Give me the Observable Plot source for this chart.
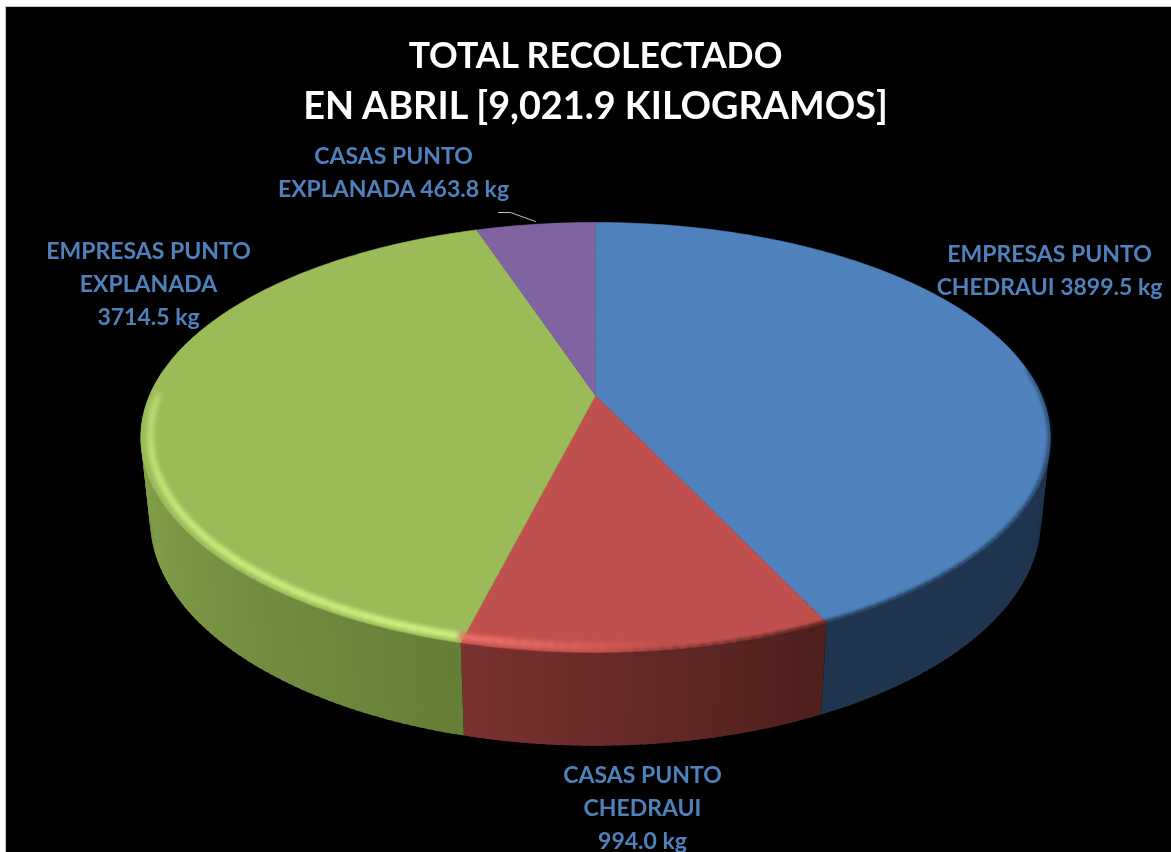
<!DOCTYPE html>
<html><head><meta charset="utf-8">
<script src="https://cdn.jsdelivr.net/npm/d3@7"></script>
<script src="https://cdn.jsdelivr.net/npm/@observablehq/plot@0.6"></script>
<style>
html,body{margin:0;padding:0;background:#fff;overflow:hidden}
.soft{filter:blur(2.2px)}
.edge{filter:blur(1.6px)}
.lab{filter:blur(0.35px)}
</style></head><body><div id="chart"></div>
<script>
const categories = ["EMPRESAS PUNTO CHEDRAUI","CASAS PUNTO CHEDRAUI","EMPRESAS PUNTO EXPLANADA","CASAS PUNTO EXPLANADA"];
const kilograms = [3899.5, 994.0, 3714.5, 463.8];
const topColors = ["#4f81bd","#c0504d","#9bbb59","#8064a2"];
const sideLeft  = ["#203550","#7b3230","#8fae52","#4b3a60"];
const sideRight = ["#203550","#4f201e","#667f38","#4b3a60"];
const rimColors = ["#4f81bd","#ee7069","#cdf280","#8064a2"];
const titleLines = ["TOTAL RECOLECTADO","EN ABRIL [9,021.9 KILOGRAMOS]"];
const labelLines = ["EMPRESAS PUNTO\nCHEDRAUI 3899.5 kg","CASAS PUNTO\nCHEDRAUI\n994.0 kg","EMPRESAS PUNTO\nEXPLANADA\n3714.5 kg","CASAS PUNTO\nEXPLANADA 463.8 kg"];

const W=1171,H=852, CX=595, CY=395, A=446, B=206.8, K=0.195;
const DROP=0.397, SHRINK=0.02;
const total=d3.sum(kilograms);
let acc=0;
const slices=kilograms.map((v,i)=>{const a0=acc/total*2*Math.PI;acc+=v;return {i,a0,a1:acc/total*2*Math.PI};});
function proj(t,z=0,r=1){const u=r*Math.sin(t),v=-r*Math.cos(t);const w=1-K*v+SHRINK*z;return {x:u/w,y:(v+DROP*z)/w};}
const steps=a=>Math.max(4,Math.ceil(a*60));
const faceData=[],sideData=[],rimData=[],edgeData=[];
for(const s of slices){
  const n=steps(s.a1-s.a0), da=(s.a1-s.a0)/n;
  faceData.push({id:s.i,x:0,y:0,c:topColors[s.i]});
  for(let j=0;j<=n;j++){faceData.push({id:s.i,...proj(s.a0+da*j),c:topColors[s.i]});}
  const col=d3.interpolateRgb(sideLeft[s.i],sideRight[s.i]);
  const visibleEnd=Math.min(s.a1,Math.PI*1.54);
  // walls are painted from the last quad to the first, each overlapping its neighbour
  for(let j=n-1;j>=0;j--){
    const t0=s.a0+da*j,t1=Math.min(s.a1,t0+da*1.6);
    if(Math.cos(t0+da/2)>0.12) continue;
    const f=col(1-Math.min(1,(t0-s.a0)/Math.max(1e-6,visibleEnd-s.a0))), id=s.i+"-"+j;
    [proj(t0),proj(t1),proj(t1,1),proj(t0,1)].forEach(p=>sideData.push({id,...p,c:f}));
  }
}
// highlight band along the front rim, strongest toward the green/red seam
function band(store,lo,hi,r,color,op,key){
  const m=Math.ceil((hi-lo)*40);
  for(let j=0;j<m;j++){
    const t0=lo+(hi-lo)*j/m,t1=lo+(hi-lo)*(j+1.2)/m,o=op((j+.5)/m),id=key+j;
    store.push({id,...proj(t0,0,r),c:color,o},{id,...proj(t1,0,r),c:color,o});
  }
}
const [blue,red,green]=slices;
band(rimData,green.a0,Math.PI*1.5,0.98,rimColors[2],f=>Math.max(0.3,Math.pow(1-f,0.6)),"g");
band(rimData,red.a0+(red.a1-red.a0)*0.45,red.a1,0.98,rimColors[1],f=>Math.pow(f,1.3),"r");
band(edgeData,Math.PI*0.46,blue.a1,0.998,"#203550",f=>0.35+f*0.65,"b");
band(edgeData,red.a0,red.a0+(red.a1-red.a0)*0.6,0.998,"#4f201e",f=>1-f*0.95,"rr");
const ux=px=>(px-CX)/A, uy=py=>(py-CY)/B;
const leader=[[498,212],[510,212],[535,221]].map(([a,b])=>({x:ux(a),y:uy(b)}));
const text=(t,x,y,size,fill,lh)=>Plot.text([t],{x:()=>ux(x),y:()=>uy(y),text:d=>d,fontFamily:"Lato",fontWeight:700,fontSize:size,fill,lineHeight:lh,textAnchor:"middle",lineAnchor:"top",className:"lab"});
const chart=Plot.plot({
  width:W,height:H,margin:0,
  style:{background:"#fff"},
  x:{domain:[-1,1],range:[CX-A,CX+A],axis:null},
  y:{domain:[-1,1],range:[CY-B,CY+B],axis:null},
  color:{type:"identity"},
  opacity:{type:"identity"},
  marks:[
    Plot.frame({fill:"#000",stroke:"#c8c8c8",insetLeft:5,insetTop:6,insetRight:-2,insetBottom:-2}),
    Plot.line(sideData,{x:"x",y:"y",z:"id",fill:"c",curve:"linear-closed"}),
    Plot.line(faceData,{x:"x",y:"y",z:"id",fill:"c",stroke:"c",strokeWidth:0.6,curve:"linear-closed"}),
    Plot.line(edgeData,{x:"x",y:"y",z:"id",stroke:"c",strokeOpacity:"o",strokeWidth:3.5,className:"edge"}),
    Plot.line(rimData,{x:"x",y:"y",z:"id",stroke:"c",strokeOpacity:"o",strokeWidth:7,className:"soft"}),
    Plot.line(leader,{x:"x",y:"y",stroke:"#bfbfbf",strokeWidth:1}),
    text(titleLines[0],595,42,35.6,"#fff",1),
    text(titleLines[1],595,92,37.8,"#fff",1),
    text(labelLines[0],1049,238,23,"#4f81bd",1.435),
    text(labelLines[1],642,759,23,"#4f81bd",1.435),
    text(labelLines[2],148,235,23,"#4f81bd",1.435),
    text(labelLines[3],393,140,23,"#4f81bd",1.435),
  ]
});
document.getElementById("chart").append(chart);
</script></body></html>
